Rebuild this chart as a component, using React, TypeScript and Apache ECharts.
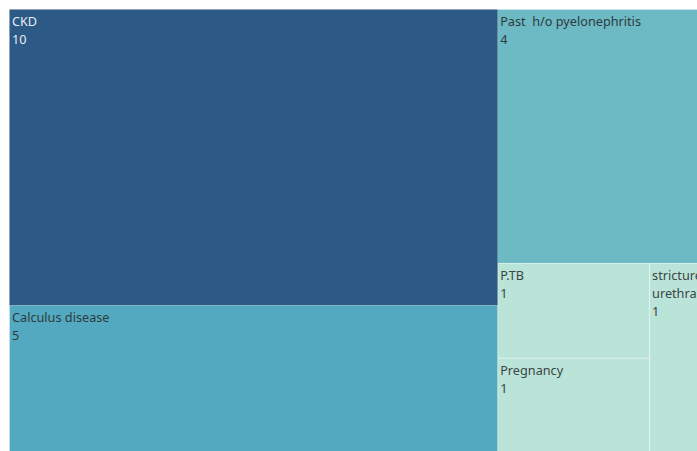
import React, { useEffect, useRef } from "react";
import * as echarts from "echarts";

const categories = [
  "CKD",
  "Calculus disease",
  "Past  h/o pyelonephritis",
  "P.TB",
  "Pregnancy",
  "stricture urethra",
];
const values = [10, 5, 4, 1, 1, 1];
const colors = ["#2c5985", "#53a9bf", "#6db9c4", "#bbe4d9", "#bbe4d9", "#bbe4d9"];
const labelColors = ["#e6edf4", "#2f3b40", "#2f3b40", "#3a4545", "#3a4545", "#3a4545"];
const borderColors = ["#22476b", "#7cc0cf", "#8ccad3", "#d8f0e9", "#d8f0e9", "#d8f0e9"];

export default function App() {
  const ref = useRef<HTMLDivElement>(null);
  useEffect(() => {
    document.body.style.margin = "0";
    const chart = echarts.init(ref.current!, null, { renderer: "svg" });
    const data = categories.map((name, i) => ({
      name,
      value: values[i],
      itemStyle: { color: colors[i], borderColor: borderColors[i] },
      label: { color: labelColors[i] },
    }));
    chart.setOption({
      animation: false,
      series: [
        {
          type: "treemap",
          left: 9,
          top: 9,
          width: 717,
          height: 445,
          roam: false,
          nodeClick: false,
          breadcrumb: { show: false },
          sort: false,
          squareRatio: 0.5 * (1 + Math.sqrt(5)),
          itemStyle: { borderWidth: 0.5, gapWidth: 0 },
          label: {
            show: true,
            position: "insideTopLeft",
            padding: [2, 2],
            fontFamily: "Noto Sans",
            fontSize: 12.7,
            lineHeight: 18,
            overflow: "break",
            formatter: "{b}\n{c}",
          },
          data,
        },
      ],
    });
    return () => chart.dispose();
  }, []);
  return <div ref={ref} style={{ width: 697, height: 451, overflow: "hidden" }} />;
}
